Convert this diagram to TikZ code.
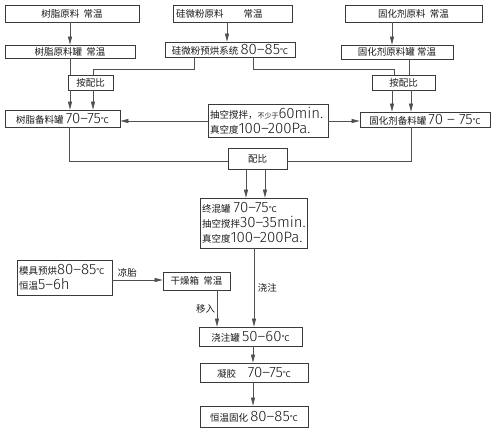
\documentclass[tikz,border=0pt]{standalone}
\usepackage{fontspec}
\usetikzlibrary{arrows.meta}
\newfontfamily\cjk{Noto Sans CJK SC}
\newfontfamily\dg{Fira Sans Light}
\newcommand\D[1]{{\dg\fontsize{15}{15}\selectfont #1}}
\newcommand\Cdeg{{\cjk\fontsize{8}{8}\selectfont ℃}}
\newcommand\sm[1]{{\cjk\fontsize{7}{7}\selectfont #1}}
\definecolor{boxc}{HTML}{3A3A3A}
\definecolor{linec}{HTML}{505050}
\definecolor{txt}{HTML}{1A1A1A}
\tikzset{
  box/.style={draw=boxc, line width=0.7pt, inner sep=0pt, text=txt, font=\cjk\fontsize{9.5}{15}\selectfont},
  lbox/.style={box, align=left, inner xsep=2pt},
  ln/.style={draw=linec, line width=0.6pt},
  arr/.style={ln, -{Triangle[length=8pt,width=4pt]}},
  lbl/.style={font=\cjk\fontsize{9.5}{11}\selectfont, text=txt, inner sep=1.5pt}
}
\begin{document}
\begin{tikzpicture}[x=1pt,y=-1pt]
\useasboundingbox[fill=white] (0,0) rectangle (500,431);
% boxes
\node[box, minimum width=134pt, minimum height=17pt] (b1) at (72,13.5) {树脂原料\ \ 常温};
\node[box, minimum width=130pt, minimum height=13pt] (b2) at (70,51.5) {树脂原料罐\ \ 常温};
\node[lbox, minimum width=119pt, minimum height=17pt, text width=113pt, inner xsep=3pt] (b3) at (232.5,13.5) {硅微粉原料\hspace{20pt}常温};
\node[box, minimum width=130pt, minimum height=15pt] (b4) at (230,49.5) {硅微粉预烘系统\ \D{80–85}\Cdeg};
\node[box, minimum width=137pt, minimum height=17pt] (b5) at (413.5,13.5) {固化剂原料\ \ 常温};
\node[box, minimum width=112pt, minimum height=14pt] (b6) at (397,52) {固化剂原料罐\ 常温};
\node[box, minimum width=45pt, minimum height=15pt] (p1) at (90.5,82.5) {按配比};
\node[box, minimum width=63pt, minimum height=15pt] (p2) at (403.5,82.5) {按配比};
\node[box, minimum width=115pt, minimum height=17pt] (b9) at (62.5,118.5) {树脂备料罐\ \D{70–75}\Cdeg};
\node[lbox, minimum width=120pt, minimum height=33pt, text width=116pt] (b10) at (268,120.5) {\mbox{抽空搅拌，\sm{不少于}\D{60min.}}\\\mbox{真空度\D{100–200Pa.}}};
\node[box, minimum width=130pt, minimum height=15pt] (b11) at (425,119.5) {固化剂备料罐\ \D{70 – 75}\Cdeg};
\node[box, minimum width=59pt, minimum height=21pt] (b12) at (257.5,158.5) {配比};
\node[lbox, minimum width=107pt, minimum height=50pt, text width=103pt] (b13) at (253.5,223) {\mbox{终混罐\ \D{70–75}\Cdeg}\\\mbox{抽空搅拌\D{30–35min.}}\\\mbox{真空度\D{100–200Pa.}}};
\node[lbox, minimum width=95pt, minimum height=35pt, text width=91pt] (b14) at (64.5,277.5) {\mbox{模具预烘\D{80–85}\Cdeg}\\\mbox{恒温\D{5–6h}}};
\node[box, minimum width=67pt, minimum height=18pt] (b15) at (196.5,281) {干燥箱\ \ 常温};
\node[box, minimum width=103pt, minimum height=19pt] (b16) at (250.5,336.5) {浇注罐\ \D{50–60}\Cdeg};
\node[box, minimum width=108pt, minimum height=19pt] (b17) at (254,372.5) {凝胶\quad\ \D{70–75}\Cdeg};
\node[box, minimum width=108pt, minimum height=21pt] (b18) at (254,416.5) {恒温固化\ \D{80–85}\Cdeg};
% helper coordinates
\coordinate (x70) at (70,0);
\coordinate (x93) at (93,0);
\coordinate (x194) at (194,0);
\coordinate (x227) at (227,0);
\coordinate (x253) at (253,0);
\coordinate (x392) at (392,0);
\coordinate (x409) at (409,0);
\coordinate (x411) at (411,0);
\coordinate (x69) at (69,0);
\coordinate (x246) at (246,0);
\coordinate (x265) at (265,0);
\coordinate (x254) at (254,0);
\coordinate (x217) at (217,0);
\coordinate (j1) at (93,69);
\coordinate (j2) at (394,69);
\coordinate (h1) at (0,121);
\coordinate (h2) at (0,161);
\coordinate (h3) at (0,280);
% connectors
\draw[arr] (b1.south -| x70) -- (b2.north -| x70);
\draw[ln] (b2.south -| x70) -- (p1.north -| x70);
\draw[arr] (p1.south -| x70) -- (b9.north -| x70);
\draw[arr] (p1.south -| x93) -- (b9.north -| x93);
\draw[arr] (b3.south -| x227) -- (b4.north -| x227);
\draw[ln] (b4.south -| x194) |- (j1) -- (p1.north -| j1);
\draw[ln] (b4.south -| x253) |- (j2) -- (p2.north -| j2);
\draw[arr] (b5.south -| x392) -- (b6.north -| x392);
\draw[ln] (b6.south -| x409) -- (p2.north -| x409);
\draw[arr] (p2.south -| x392) -- (b11.north -| x392);
\draw[arr] (p2.south -| x411) -- (b11.north -| x411);
\draw[arr] (b10.west |- h1) -- (b9.east |- h1);
\draw[arr] (b10.east |- h1) -- (b11.west |- h1);
\draw[ln] (b9.south -| x69) |- (b12.west |- h2);
\draw[ln] (b11.south -| x411) |- (b12.east |- h2);
\draw[arr] (b12.south -| x246) -- (b13.north -| x246);
\draw[arr] (b12.south -| x265) -- (b13.north -| x265);
\draw[arr] (b13.south -| x254) -- (b16.north -| x254) node[lbl, midway, right, xshift=2pt] {浇注};
\draw[arr] (b14.east |- h3) -- (b15.west |- h3) node[lbl, pos=0.3, above, yshift=1pt] {凉胎};
\draw[arr] (b15.south -| x217) -- (b16.north -| x217) node[lbl, pos=0.5, left] {移入};
\draw[arr] (b16.south -| x253) -- (b17.north -| x253);
\draw[arr] (b17.south -| x253) -- (b18.north -| x253);
\end{tikzpicture}
\end{document}
